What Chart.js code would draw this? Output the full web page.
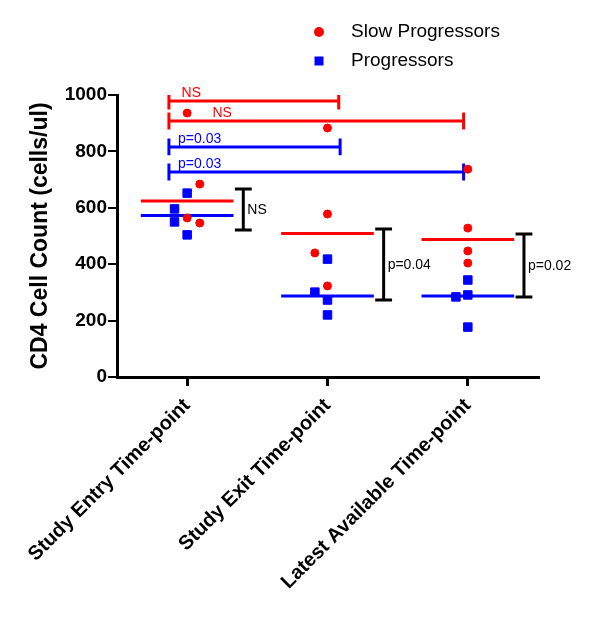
<!DOCTYPE html>
<html>
<head>
<meta charset="utf-8">
<script src="https://cdn.jsdelivr.net/npm/chart.js@4.4.0/dist/chart.umd.min.js"></script>
<style>
  html, body { margin: 0; padding: 0; background: #fff; }
  #wrap { width: 600px; height: 627px; }
</style>
</head>
<body>
<div id="wrap"><canvas id="cd4Chart" width="600" height="627"></canvas></div>
<script>
// data
const categories = ['Study Entry Time-point', 'Study Exit Time-point', 'Latest Available Time-point'];
const seriesNames = ['Slow Progressors', 'Progressors'];
const slowValues = [[936, 684, 564, 546], [883, 578, 440, 323], [737, 528, 447, 404]];
const progValues = [[652, 596, 550, 504], [418, 301, 273, 220], [344, 291, 284, 177]];
const yTicks = [0, 200, 400, 600, 800, 1000];

// black brackets between groups at each time-point
const bracketTop = [667, 525, 507];
const bracketBottom = [521, 273, 284];
const bracketLabels = ['NS', 'p=0.04', 'p=0.02'];

// comparisons against study entry
const sigLevels = [979, 908, 816, 727];
const sigTo = [1, 2, 1, 2];
const sigSeries = [0, 0, 1, 1];
const sigLabels = ['NS', 'NS', 'p=0.03', 'p=0.03'];

// layout bits (horizontal jitter etc, in category units)
const slowJitter = [[0, 0.09, 0, 0.09], [0, 0, -0.09, 0], [0, 0, 0, 0]];
const progJitter = [[0, -0.09, -0.09, 0], [0, -0.09, 0, 0], [0, 0, -0.085, 0]];
const sigStart = -0.13;
const sigEndOffset = [0.08, -0.03, 0.09, -0.03];
const sigLabelX = [-0.04, 0.18, -0.065, -0.065];
const medianHalf = 0.33;
const bracketX = 0.4;
const bracketCap = 0.06;
const sigCap = 30;

const RED = '#ff0000';
const BLUE = '#0000ff';
const colors = [RED, BLUE];

Chart.defaults.font.family = "'Liberation Sans', Arial, sans-serif";
Chart.defaults.color = '#000';

function median(arr) {
    const s = arr.slice().sort((a, b) => a - b);
    const m = s.length / 2;
    return s.length % 2 ? s[Math.floor(m)] : (s[m - 1] + s[m]) / 2;
}

function points(values, jitter) {
    const out = [];
    values.forEach((grp, i) => grp.forEach((v, j) => out.push({ x: i + jitter[i][j], y: v })));
    return out;
}

function lineSet(data, color) {
    return {
        type: 'scatter',
        showLine: true,
        data: data,
        borderColor: color,
        borderWidth: 3,
        pointRadius: 0,
        fill: false
    };
}

const datasets = [
    {
        label: seriesNames[0],
        data: points(slowValues, slowJitter),
        backgroundColor: RED,
        borderColor: RED,
        pointStyle: 'circle',
        pointRadius: 4,
        borderWidth: 1
    },
    {
        label: seriesNames[1],
        data: points(progValues, progJitter),
        backgroundColor: BLUE,
        borderColor: BLUE,
        pointStyle: 'rect',
        pointRadius: 6,
        borderWidth: 1
    }
];

// median lines
[slowValues, progValues].forEach((vals, s) => {
    vals.forEach((grp, i) => {
        const m = median(grp);
        datasets.push(lineSet([{ x: i - medianHalf, y: m }, { x: i + medianHalf, y: m }], colors[s]));
    });
});

// black brackets
bracketTop.forEach((top, i) => {
    const x = i + bracketX, bot = bracketBottom[i];
    datasets.push(lineSet([
        { x: x - bracketCap, y: top }, { x: x + bracketCap, y: top }, { x: x, y: top },
        { x: x, y: bot }, { x: x - bracketCap, y: bot }, { x: x + bracketCap, y: bot }
    ], '#000'));
});

// significance bars
sigLevels.forEach((lvl, k) => {
    const x1 = sigStart, x2 = sigTo[k] + sigEndOffset[k];
    datasets.push(lineSet([
        { x: x1, y: lvl + sigCap }, { x: x1, y: lvl - sigCap }, { x: x1, y: lvl },
        { x: x2, y: lvl }, { x: x2, y: lvl + sigCap }, { x: x2, y: lvl - sigCap }
    ], colors[sigSeries[k]]));
});

const labelsPlugin = {
    id: 'labelsPlugin',
    afterDraw(chart) {
        const ctx = chart.ctx;
        const xs = chart.scales.x, ys = chart.scales.y;
        ctx.save();
        ctx.font = "14px 'Liberation Sans', Arial, sans-serif";
        ctx.textAlign = 'left';
        // significance labels
        ctx.textBaseline = 'alphabetic';
        sigLabels.forEach((t, k) => {
            ctx.fillStyle = colors[sigSeries[k]];
            ctx.fillText(t, xs.getPixelForValue(sigLabelX[k]), ys.getPixelForValue(sigLevels[k]) - 4);
        });
        // bracket labels
        ctx.fillStyle = '#000';
        ctx.textBaseline = 'middle';
        bracketLabels.forEach((t, i) => {
            const mid = (ys.getPixelForValue(bracketTop[i]) + ys.getPixelForValue(bracketBottom[i])) / 2;
            ctx.fillText(t, xs.getPixelForValue(i + bracketX) + 4, mid + 1);
        });
        // legend
        ctx.font = "19px 'Liberation Sans', Arial, sans-serif";
        ctx.fillStyle = RED;
        ctx.beginPath();
        ctx.arc(319, 32, 5, 0, Math.PI * 2);
        ctx.fill();
        ctx.fillStyle = BLUE;
        ctx.fillRect(314.5, 56.5, 9, 9);
        ctx.fillStyle = '#000';
        ctx.fillText(seriesNames[0], 351, 32);
        ctx.fillText(seriesNames[1], 351, 61);
        ctx.restore();
    }
};

new Chart(document.getElementById('cd4Chart'), {
    type: 'scatter',
    data: { datasets: datasets },
    options: {
        responsive: false,
        animation: false,
        layout: {
            autoPadding: false,
            padding: { top: 95, right: 62, left: 0, bottom: 0 }
        },
        plugins: {
            legend: { display: false },
            tooltip: { enabled: false }
        },
        scales: {
            x: {
                type: 'linear',
                min: -0.5,
                max: 2.5,
                afterBuildTicks: s => { s.ticks = categories.map((c, i) => ({ value: i })); },
                afterFit: s => { s.height = 250; },
                ticks: {
                    callback: v => categories[v],
                    minRotation: 45,
                    maxRotation: 45,
                    autoSkip: false,
                    padding: 8,
                    font: { size: 20, weight: 'bold' }
                },
                grid: { drawOnChartArea: false, tickLength: 9, color: '#000', lineWidth: 3 },
                border: { color: '#000', width: 3 }
            },
            y: {
                min: 0,
                max: 1000,
                afterBuildTicks: s => { s.ticks = yTicks.map(v => ({ value: v })); },
                afterFit: s => { s.width = 117; },
                ticks: {
                    padding: 1,
                    callback: v => String(v),
                    font: { size: 19, weight: 'bold' }
                },
                grid: { drawOnChartArea: false, tickLength: 9, color: '#000', lineWidth: 2 },
                border: { color: '#000', width: 3 },
                title: {
                    display: true,
                    text: 'CD4 Cell Count (cells/ul)',
                    font: { size: 23, weight: 'bold' },
                    padding: { top: 27, bottom: 0 }
                }
            }
        }
    },
    plugins: [labelsPlugin]
});
</script>
</body>
</html>
